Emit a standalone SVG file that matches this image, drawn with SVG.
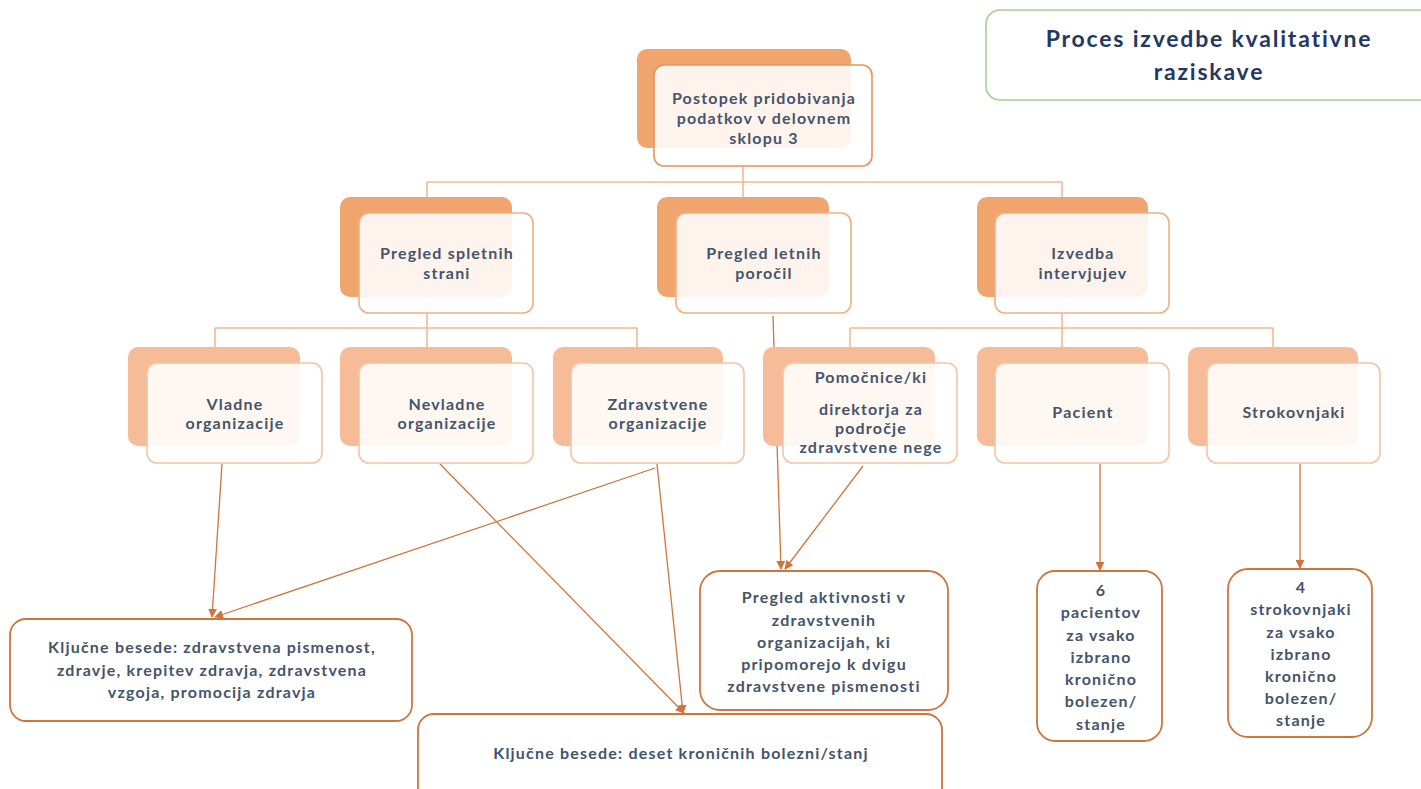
<svg xmlns="http://www.w3.org/2000/svg" width="1421" height="789" viewBox="0 0 1421 789">
<defs>
<marker id="arr" viewBox="0 0 10 10" refX="9" refY="5" markerWidth="9" markerHeight="9" markerUnits="userSpaceOnUse" orient="auto">
<path d="M0,0 L10,5 L0,10 z" fill="#D0743C"/>
</marker>
<style>
.t{font-family:Lato,"Open Sans",sans-serif;font-weight:700;font-size:16px;fill:#44546A;text-anchor:middle;letter-spacing:1.2px}
.title{font-family:Lato,"Open Sans",sans-serif;font-weight:700;font-size:23px;fill:#1F3864;text-anchor:middle;letter-spacing:1.8px}
.b1{fill:#F0A46E}
.b3{fill:#F5BC97}
.f1{fill:#FFFFFF;fill-opacity:0.88;stroke:#E8925A;stroke-width:1.6}
.f2{fill:#FFFFFF;fill-opacity:0.88;stroke:#F2AE85;stroke-width:1.6}
.f3{fill:#FFFFFF;fill-opacity:0.88;stroke:#F6C3A4;stroke-width:1.6}
.lf{fill:#FFFFFF;stroke:#D0743C;stroke-width:1.8}
.tree{fill:none;stroke:#F4B890;stroke-width:1.6}
.arrow{fill:none;stroke:#D0743C;stroke-width:1.3;marker-end:url(#arr)}
</style>
</defs>
<rect width="1421" height="789" fill="#FFFFFF"/>

<g id="connectors">
<path class="tree" d="M743,167 V182 M427,182 H1062 M427,182 V197 M743,182 V197 M1062,182 V197"/>
<path class="tree" d="M427,313 V328 M215,328 H637 M215,328 V347 M427,328 V347 M637,328 V347"/>
<path class="tree" d="M1062,313 V328 M850,328 H1273 M850,328 V347 M1062,328 V347 M1273,328 V347"/>
<line class="arrow" x1="222" y1="464" x2="212" y2="617"/>
<line class="arrow" x1="655" y1="468" x2="215" y2="617"/>
<line class="arrow" x1="440" y1="464" x2="684" y2="713"/>
<line class="arrow" x1="657" y1="464" x2="683" y2="713"/>
<line class="arrow" x1="773" y1="316" x2="781" y2="569"/>
<line class="arrow" x1="863" y1="466" x2="785" y2="569"/>
<line class="arrow" x1="1100" y1="464" x2="1100" y2="570"/>
<line class="arrow" x1="1300" y1="464" x2="1300" y2="568"/>
</g>

<g id="title">
<rect x="986" y="10" width="450" height="90" rx="14" fill="#FFFFFF" stroke="#A9D08E" stroke-width="1.6"/>
<text class="title" x="1209" y="47">Proces izvedbe kvalitativne</text>
<text class="title" x="1209" y="80">raziskave</text>
</g>

<g id="n-postopek">
<rect class="b1" x="637" y="49" width="214" height="99" rx="10"/>
<rect class="f1" x="654" y="65" width="218" height="101" rx="10"/>
<text class="t" x="764" y="104">Postopek pridobivanja</text>
<text class="t" x="764" y="124">podatkov v delovnem</text>
<text class="t" x="764" y="144">sklopu 3</text>
</g>

<g id="n-spletne">
<rect class="b1" x="340" y="197" width="172" height="100" rx="10"/>
<rect class="f2" x="359" y="213" width="174" height="100" rx="10"/>
<text class="t" x="447" y="259">Pregled spletnih</text>
<text class="t" x="447" y="279">strani</text>
</g>

<g id="n-letna">
<rect class="b1" x="657" y="197" width="172" height="100" rx="10"/>
<rect class="f2" x="676" y="213" width="175" height="100" rx="10"/>
<text class="t" x="764" y="259">Pregled letnih</text>
<text class="t" x="764" y="279">poročil</text>
</g>

<g id="n-intervjuji">
<rect class="b1" x="977" y="197" width="171" height="100" rx="10"/>
<rect class="f2" x="995" y="213" width="174" height="100" rx="10"/>
<text class="t" x="1083" y="259">Izvedba</text>
<text class="t" x="1083" y="279">intervjujev</text>
</g>

<g id="n-vladne">
<rect class="b3" x="128" y="347" width="172" height="99" rx="10"/>
<rect class="f3" x="147" y="363" width="175" height="100" rx="10"/>
<text class="t" x="235" y="410">Vladne</text>
<text class="t" x="235" y="429">organizacije</text>
</g>

<g id="n-nevladne">
<rect class="b3" x="340" y="347" width="172" height="99" rx="10"/>
<rect class="f3" x="359" y="363" width="174" height="100" rx="10"/>
<text class="t" x="447" y="410">Nevladne</text>
<text class="t" x="447" y="429">organizacije</text>
</g>

<g id="n-zdravstvene">
<rect class="b3" x="553" y="347" width="170" height="99" rx="10"/>
<rect class="f3" x="571" y="363" width="173" height="100" rx="10"/>
<text class="t" x="658" y="410">Zdravstvene</text>
<text class="t" x="658" y="429">organizacije</text>
</g>

<g id="n-pomocnice">
<rect class="b3" x="763" y="347" width="172" height="99" rx="10"/>
<rect class="f3" x="783" y="363" width="174" height="100" rx="10"/>
<text class="t" x="871" y="383">Pomočnice/ki</text>
<text class="t" x="871" y="415">direktorja za</text>
<text class="t" x="871" y="434">področje</text>
<text class="t" x="871" y="453">zdravstvene nege</text>
</g>

<g id="n-pacient">
<rect class="b3" x="977" y="347" width="171" height="99" rx="10"/>
<rect class="f3" x="995" y="363" width="174" height="100" rx="10"/>
<text class="t" x="1083" y="418">Pacient</text>
</g>

<g id="n-strokovnjaki">
<rect class="b3" x="1188" y="347" width="170" height="99" rx="10"/>
<rect class="f3" x="1207" y="363" width="173" height="100" rx="10"/>
<text class="t" x="1294" y="418">Strokovnjaki</text>
</g>

<g id="n-kljucne1">
<rect class="lf" x="10" y="619" width="402" height="102" rx="16"/>
<text class="t" x="212" y="653">Ključne besede: zdravstvena pismenost,</text>
<text class="t" x="212" y="676">zdravje, krepitev zdravja, zdravstvena</text>
<text class="t" x="212" y="698">vzgoja, promocija zdravja</text>
</g>

<g id="n-aktivnosti">
<rect class="lf" x="700" y="571" width="248" height="139" rx="20"/>
<text class="t" x="824" y="603">Pregled aktivnosti v</text>
<text class="t" x="824" y="626">zdravstvenih</text>
<text class="t" x="824" y="648">organizacijah, ki</text>
<text class="t" x="824" y="670">pripomorejo k dvigu</text>
<text class="t" x="824" y="692">zdravstvene pismenosti</text>
</g>

<g id="n-kljucne2">
<rect class="lf" x="418" y="714" width="524" height="90" rx="16"/>
<text class="t" x="681" y="759">Ključne besede: deset kroničnih bolezni/stanj</text>
</g>

<g id="n-pacienti6">
<rect class="lf" x="1037" y="571" width="125" height="170" rx="18"/>
<text class="t" x="1101" y="596">6</text>
<text class="t" x="1101" y="618">pacientov</text>
<text class="t" x="1101" y="641">za vsako</text>
<text class="t" x="1101" y="663">izbrano</text>
<text class="t" x="1101" y="685">kronično</text>
<text class="t" x="1101" y="707">bolezen/</text>
<text class="t" x="1101" y="730">stanje</text>
</g>

<g id="n-strokovnjaki4">
<rect class="lf" x="1228" y="569" width="144" height="168" rx="20"/>
<text class="t" x="1301" y="593">4</text>
<text class="t" x="1301" y="615">strokovnjaki</text>
<text class="t" x="1301" y="638">za vsako</text>
<text class="t" x="1301" y="660">izbrano</text>
<text class="t" x="1301" y="682">kronično</text>
<text class="t" x="1301" y="704">bolezen/</text>
<text class="t" x="1301" y="726">stanje</text>
</g>
</svg>
